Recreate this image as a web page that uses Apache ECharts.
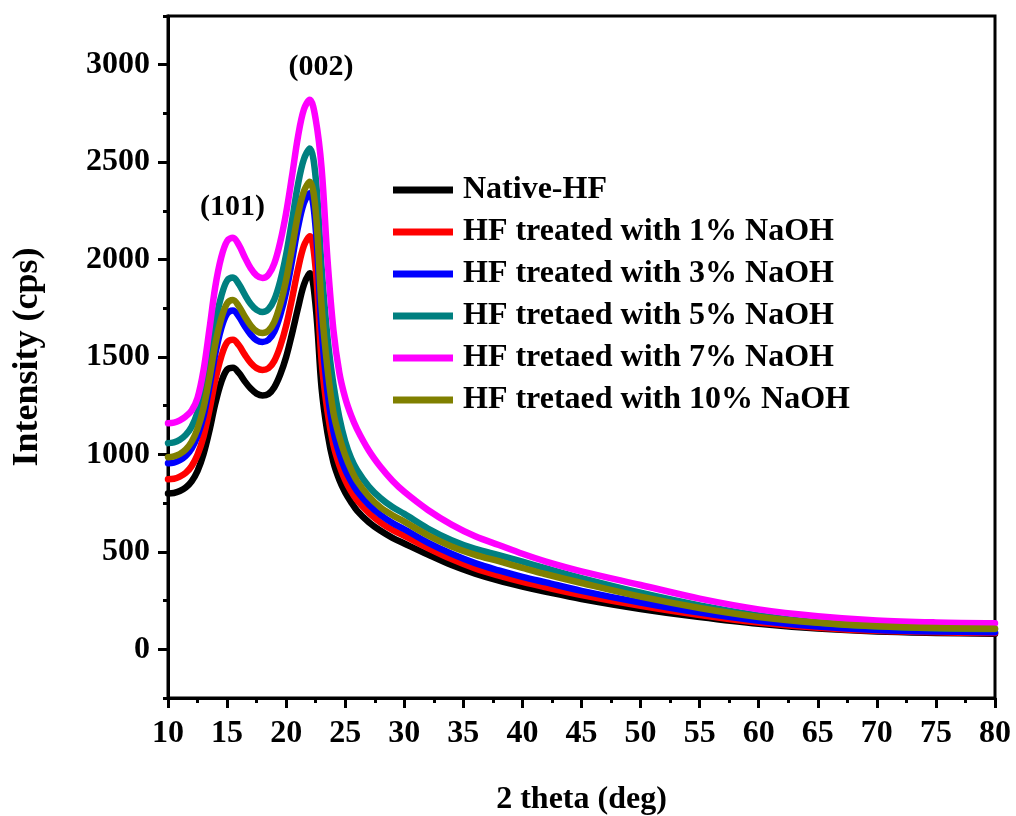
<!DOCTYPE html>
<html>
<head>
<meta charset="utf-8">
<script src="https://cdn.jsdelivr.net/npm/echarts@6/dist/echarts.min.js"></script>
<style>html,body{margin:0;padding:0;background:#fff}#c{width:1016px;height:816px}</style>
</head>
<body>
<div id="c"></div>
<script>
const xValues = [10, 10.5, 11, 11.5, 12, 12.5, 13, 13.5, 14, 14.5, 15, 15.5, 16, 16.5, 17, 17.5, 18, 18.5, 19, 19.5, 20, 20.5, 21, 21.5, 22, 22.5, 23, 23.5, 24, 24.5, 25, 25.5, 26,
  27, 28, 29, 30, 32, 34, 36, 38, 40, 42, 45, 50, 55, 60, 65, 70, 75, 80];

const nativeHF = [800, 802, 812, 830, 862, 915, 1000, 1120, 1260, 1370, 1435, 1445, 1418, 1375, 1338, 1312, 1302, 1310, 1345, 1410, 1500, 1620, 1750, 1870, 1930, 1760, 1340, 1110, 960, 870, 805, 755, 712,
  652, 608, 572, 543, 486, 432, 388, 352, 322, 295, 258, 207, 166, 131, 106, 91, 84, 80];
const naoh1 = [873, 875, 886, 905, 940, 998, 1090, 1225, 1380, 1500, 1575, 1588, 1560, 1512, 1470, 1443, 1433, 1442, 1480, 1555, 1660, 1800, 1950, 2070, 2120, 1950, 1480, 1220, 1050, 945, 868, 810, 765,
  700, 650, 612, 582, 520, 463, 415, 378, 346, 318, 278, 223, 176, 138, 111, 95, 87, 84];
const naoh3 = [955, 958, 970, 992, 1030, 1095, 1195, 1345, 1515, 1645, 1722, 1738, 1708, 1658, 1615, 1586, 1577, 1588, 1630, 1715, 1835, 1995, 2165, 2290, 2340, 2160, 1640, 1320, 1120, 1005, 922, 862, 812,
  742, 689, 648, 616, 547, 490, 442, 405, 372, 343, 300, 240, 188, 146, 117, 99, 91, 88];
const naoh5 = [1058, 1062, 1075, 1100, 1142, 1215, 1325, 1490, 1675, 1810, 1892, 1908, 1874, 1820, 1772, 1742, 1731, 1745, 1795, 1890, 2025, 2200, 2385, 2515, 2570, 2420, 1960, 1600, 1360, 1190, 1065, 980, 920,
  835, 775, 730, 695, 620, 560, 515, 483, 450, 415, 365, 290, 225, 174, 138, 118, 108, 104];
const naoh7 = [1160, 1163, 1175, 1195, 1225, 1290, 1430, 1640, 1860, 2010, 2095, 2112, 2075, 2012, 1955, 1918, 1905, 1922, 1980, 2090, 2240, 2430, 2630, 2770, 2820, 2720, 2470, 2000, 1640, 1420, 1290, 1200, 1130,
  1020, 935, 865, 808, 715, 640, 580, 535, 490, 450, 400, 330, 260, 205, 170, 148, 138, 134];
const naoh10 = [986, 990, 1002, 1025, 1065, 1132, 1237, 1390, 1565, 1695, 1775, 1792, 1760, 1708, 1662, 1632, 1623, 1635, 1680, 1770, 1895, 2060, 2230, 2350, 2400, 2250, 1760, 1440, 1215, 1090, 995, 922, 864,
  785, 728, 688, 655, 585, 528, 485, 452, 418, 385, 340, 270, 212, 166, 136, 118, 109, 106];

const seriesNames = ['Native-HF', 'HF treated with 1% NaOH', 'HF treated with 3% NaOH', 'HF tretaed with 5% NaOH', 'HF tretaed with 7% NaOH', 'HF tretaed with 10% NaOH'];
const seriesColors = ['#000000', '#ff0000', '#0000ff', '#008080', '#ff00ff', '#808000'];
const seriesData = [nativeHF, naoh1, naoh3, naoh5, naoh7, naoh10];

const yLabelValues = [0, 500, 1000, 1500, 2000, 2500, 3000];
const yMinorValues = [-250, 250, 750, 1250, 1750, 2250, 2750, 3250];

const annotationTexts = ['(101)', '(002)'];
const annotationX = [15.5, 23.0];
const annotationY = [2265, 2984];

const FONT = '"Liberation Serif", "Times New Roman", serif';

const series = seriesData.map((vals, i) => ({
  name: seriesNames[i],
  type: 'line',
  data: xValues.map((x, j) => [x, vals[j]]),
  smooth: 0.35,
  symbol: 'none',
  lineStyle: { color: seriesColors[i], width: 6.5, join: 'round', cap: 'round' },
  itemStyle: { color: seriesColors[i] },
  z: 2 + i
}));
// annotations
series.push({
  type: 'scatter',
  data: annotationX.map((x, i) => [x, annotationY[i], annotationTexts[i]]),
  symbolSize: 1,
  itemStyle: { color: 'rgba(0,0,0,0)' },
  silent: true,
  label: {
    show: true, position: [0, 0], align: 'center', verticalAlign: 'middle',
    formatter: p => p.data[2],
    fontFamily: FONT, fontWeight: 'bold', fontSize: 30, color: '#000', opacity: 1
  },
  z: 10
});

const chart = echarts.init(document.getElementById('c'));
chart.setOption({
  backgroundColor: '#fff',
  animation: false,
  grid: { left: 168, right: 21, top: 16, bottom: 118, outerBoundsMode: 'none', containLabel: false, show: true, borderColor: '#000', borderWidth: 3, backgroundColor: 'transparent' },
  legend: {
    data: seriesNames,
    orient: 'vertical',
    left: 388, top: 169,
    icon: 'rect',
    itemWidth: 60, itemHeight: 7, itemGap: 10,
    textStyle: { fontFamily: FONT, fontWeight: 'bold', fontSize: 32, color: '#000', lineHeight: 32, padding: [0, 0, 0, 5] }
  },
  xAxis: {
    type: 'value', min: 10, max: 80, interval: 5,
    name: '2 theta (deg)', nameLocation: 'middle', nameGap: 86,
    nameTextStyle: { fontFamily: FONT, fontWeight: 'bold', fontSize: 32, color: '#000' },
    axisLine: { show: true, onZero: false, lineStyle: { color: '#000', width: 3 } },
    axisTick: { show: true, inside: false, length: 10, lineStyle: { color: '#000', width: 3 } },
    minorTick: { show: true, splitNumber: 2, length: 5, lineStyle: { color: '#000', width: 3 } },
    axisLabel: { fontFamily: FONT, fontWeight: 'bold', fontSize: 32, color: '#000', margin: 20 },
    splitLine: { show: false }
  },
  yAxis: [{
    type: 'value', min: -250, max: 3250, interval: 250,
    name: 'Intensity (cps)', nameLocation: 'middle', nameGap: 122,
    nameTextStyle: { fontFamily: FONT, fontWeight: 'bold', fontSize: 36, color: '#000' },
    axisLine: { show: true, onZero: false, lineStyle: { color: '#000', width: 3 } },
    axisTick: { show: true, length: 10, customValues: yLabelValues, lineStyle: { color: '#000', width: 3 } },
    axisLabel: { customValues: yLabelValues, formatter: v => String(v), fontFamily: FONT, fontWeight: 'bold', fontSize: 32, color: '#000', margin: 18 },
    splitLine: { show: false }
  }, {
    type: 'value', min: -250, max: 3250, interval: 250, position: 'left',
    axisLine: { show: false },
    axisTick: { show: true, length: 5, customValues: yMinorValues, lineStyle: { color: '#000', width: 3 } },
    axisLabel: { show: false },
    splitLine: { show: false }
  }],
  series: series
});
</script>
</body>
</html>
